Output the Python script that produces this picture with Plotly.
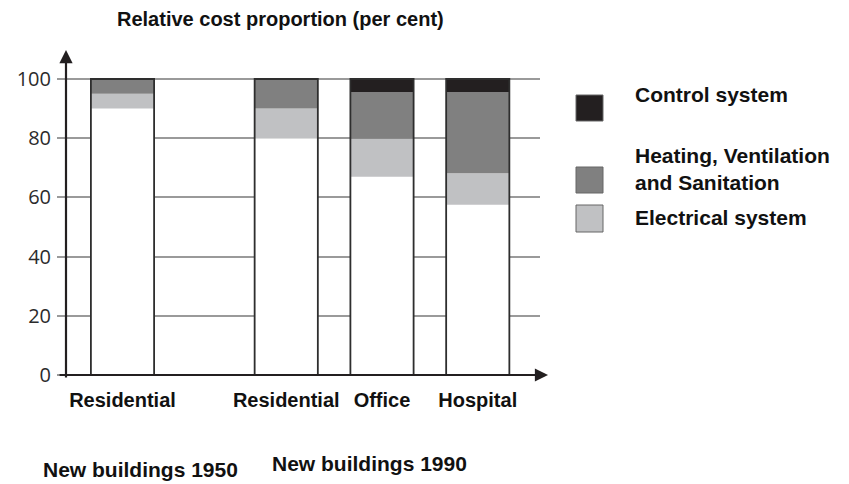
import plotly.graph_objects as go

categories = ["Residential", "Residential", "Office", "Hospital"]
x_pos = [0.29, 2.0, 3.0, 4.0]
base_part = [90, 80, 67, 57.5]
electrical = [5, 10, 12.8, 10.7]
hvac = [5, 10, 15.7, 27.3]
control = [0, 0, 4.5, 4.5]
y_ticks = [0, 20, 40, 60, 80, 100]
group_labels = ["New buildings 1950", "New buildings 1990"]
legend_names = ["Control system", "Heating, Ventilation<br>and Sanitation", "Electrical system"]

col_ctrl = "#231f20"
col_hvac = "#808080"
col_elec = "#c0c1c3"
edge = "#2e2e2e"
width = 0.66

fig = go.Figure()

def stack_base(*arrs):
    return [sum(v) for v in zip(*arrs)]

fig.add_bar(x=x_pos, y=base_part, base=[0]*4, width=width, marker=dict(color="white", line=dict(width=0)))
fig.add_bar(x=x_pos, y=electrical, base=base_part, width=width, marker=dict(color=col_elec, line=dict(width=0)))
fig.add_bar(x=x_pos, y=hvac, base=stack_base(base_part, electrical), width=width, marker=dict(color=col_hvac, line=dict(width=0)))
fig.add_bar(x=x_pos, y=control, base=stack_base(base_part, electrical, hvac), width=width, marker=dict(color=col_ctrl, line=dict(width=0)))
totals = stack_base(base_part, electrical, hvac, control)
fig.add_bar(x=x_pos, y=totals, base=[0]*4, width=width,
            marker=dict(color="rgba(0,0,0,0)", line=dict(width=1.8, color=edge)))

# page body has an 8px offset; figure is sized so the plot area lands at screen x 66..540, y 79..375
fig.update_layout(
    barmode="overlay",
    width=841, height=476,
    margin=dict(l=58, r=309, t=42, b=109, autoexpand=False),
    plot_bgcolor="white", paper_bgcolor="white",
    showlegend=False,
    font=dict(family="Liberation Sans, Arial", color="#111"),
)
fig.update_xaxes(range=[-0.30, 4.65], showgrid=False, zeroline=False, showline=False, automargin=False,
                 tickvals=x_pos, ticktext=["<b>%s</b>" % c for c in categories],
                 tickfont=dict(size=20, color="#111"), ticks="", ticklabelstandoff=11)
fig.update_yaxes(range=[0, 109.8], tickvals=y_ticks, showgrid=True, gridcolor="#9a9a9a", gridwidth=1.5,
                 zeroline=False, showline=False, ticks="outside", ticklen=8, tickcolor="#9a9a9a", tickwidth=1.5,
                 automargin=False,
                 tickfont=dict(family="Open Sans", size=20, color="#2b2b2b"), ticklabelstandoff=2)

# axis arrows
fig.add_annotation(xref="paper", yref="paper", x=0, y=1.0, ax=0, ay=329, showarrow=True,
                   arrowhead=2, arrowsize=1.2, arrowwidth=2.2, arrowcolor=col_ctrl, text="")
fig.add_annotation(xref="paper", yref="paper", x=1.017, y=0, ax=-490, ay=0, showarrow=True,
                   arrowhead=2, arrowsize=1.2, arrowwidth=2.2, arrowcolor=col_ctrl, text="")

def px_x(p):
    return (p - 66) / 474
def px_y(p):
    return (375 - p) / 325

# title
fig.add_annotation(xref="paper", yref="paper", x=px_x(280), y=px_y(19), showarrow=False,
                   text="<b>Relative cost proportion (per cent)</b>", font=dict(size=20, color="#111"),
                   xanchor="center", yanchor="middle")

# group labels
fig.add_annotation(xref="paper", yref="paper", x=px_x(140), y=px_y(469), showarrow=False,
                   text="<b>%s</b>" % group_labels[0], font=dict(size=21, color="#111"), xanchor="center", yanchor="middle")
fig.add_annotation(xref="paper", yref="paper", x=px_x(369), y=px_y(463), showarrow=False,
                   text="<b>%s</b>" % group_labels[1], font=dict(size=21, color="#111"), xanchor="center", yanchor="middle")

# custom legend
squares = [(95, 121, col_ctrl), (167, 193, col_hvac), (205, 232, col_elec)]
for top, bot, c in squares:
    fig.add_shape(type="rect", xref="paper", yref="paper", x0=px_x(576), x1=px_x(603),
                  y0=px_y(bot), y1=px_y(top), fillcolor=c, line=dict(color="#666", width=1))
text_y = [95, 169, 217]
for name, ty in zip(legend_names, text_y):
    fig.add_annotation(xref="paper", yref="paper", x=px_x(633), y=px_y(ty), showarrow=False,
                       text="<b>%s</b>" % name, font=dict(size=21, color="#111"), xanchor="left",
                       yanchor="middle", align="left")

fig.write_html("out.html")
